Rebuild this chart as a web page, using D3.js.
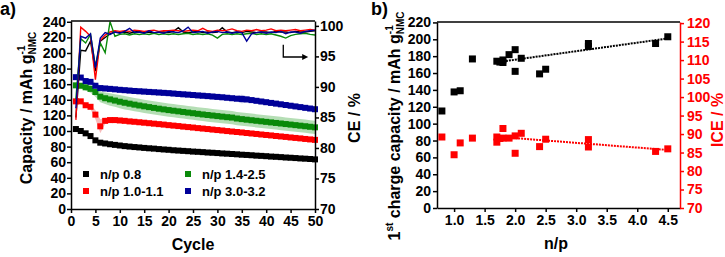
<!DOCTYPE html>
<html>
<head>
<meta charset="utf-8">
<script src="https://cdn.jsdelivr.net/npm/d3@7/dist/d3.min.js"></script>
<style>
body{margin:0;background:#fff}
svg{font-family:"Liberation Sans",Arial,sans-serif;font-weight:bold}
.axis path,.axis line{stroke:#000;stroke-width:1.5}
.axis text{font-size:14px;font-weight:bold;fill:#000;font-family:"Liberation Sans",Arial,sans-serif}
.red path,.red line{stroke:#f00}
.red text{fill:#f00}
</style>
</head>
<body>
<svg id="chart" width="725" height="257"></svg>
<script>
//---- panel a data: capacity (mAh/g) and CE (%) per cycle
var cycles = d3.range(1, 51);
var seriesNames = ["n/p 0.8", "n/p 1.0-1.1", "n/p 1.4-2.5", "n/p 3.0-3.2"];
var seriesColors = ["#000000", "#ff0000", "#0a8a0a", "#000099"];
var bandColors = ["#bbbbbb", "#f5b0b0", "#a8d8a8", "#a8aad8"];

var capBlack = [102.5,100,97,93.5,88,85,84,83,82.2,81.4,80.6,80,79.4,78.9,78.3,77.8,77.4,76.8,76.3,75.9,75.3,74.9,74.5,74.1,73.6,73.3,72.9,72.4,72.1,71.7,71.2,70.9,70.5,70.1,69.6,69.3,68.9,68.4,68.1,67.7,67.2,66.9,66.5,66.0,65.7,65.3,64.8,64.5,64.1,63.6];
var capRed = [138,138,133,131,121,106,113,114,114,113.5,113,112.3,111.8,111.2,110.6,110,109.4,108.8,108.2,107.5,106.9,106.3,105.6,105,104.4,103.7,103.1,102.5,101.8,101.2,100.6,99.9,99.3,98.7,98.1,97.4,96.8,96.2,95.5,94.9,94.3,93.6,93,92.4,91.7,91.1,90.5,89.8,89.2,88.6];
var capGreen = [158.5,158,156,154,150,144,142,140.5,139,137.5,136.2,135,133.8,132.7,131.6,130.6,129.6,128.6,127.7,126.8,126,125.2,124.4,123.6,122.8,122,121.2,120.5,119.8,119.1,118.4,117.7,117.2,116,115.2,114.5,113.8,113.1,112.4,111.7,111,110.3,109.6,108.9,108.2,107.5,106.8,106.1,105.4,104.7];
var capBlue = [169,168.5,164,163,158,155,154.5,154,153.4,152.8,152.3,151.8,151.3,150.9,150.5,150.1,149.7,149.3,148.9,148.5,148,147.5,147,146.6,146.1,145.6,145.2,144.7,144.2,143.7,143.2,142.6,142,141.4,141,140.5,139.6,138.7,137.8,136.9,136,135.1,134.2,133.3,132.4,131.5,130.6,129.7,128.8,127.9];

var errBlack = [0.5,0.5,0.5,0.5,0.5,0.5,0.5,0.5,0.5,0.5,0.5,0.5,0.5,0.5,0.5,0.5,0.5,0.5,0.5,0.5,0.5,0.5,0.5,0.5,0.5,0.5,0.5,0.5,0.5,0.5,0.5,0.5,0.5,0.5,0.5,0.5,0.5,0.5,0.5,0.5,0.5,0.5,0.5,0.5,0.5,0.5,0.5,0.5,0.5,0.5];
var errRed = [3,3,3,3,6,9,4,3,3,3,3,2.5,2.5,2.5,2.5,2.5,2.5,2.5,2.5,2.5,2.5,2.5,2.5,2.5,2.5,2.5,2.5,2.5,2.5,2.5,2.5,2.5,2.5,2.5,2.5,2.5,2.5,2.5,2.5,2.5,2.5,2.5,2.5,2.5,2.5,2.5,2.5,2.5,2.5,2.5];
var errGreen = [3,3,4,5,6,7,7.5,8,8,8.5,8.5,8.5,8.5,8.5,8.5,8.5,8.5,8.5,8.5,8.5,8.5,8.5,8.5,8.5,8.5,8.5,8.5,8.5,8.5,8.5,8.5,8.5,8.5,8.5,8.5,8.5,8.5,8.5,8.5,8.5,8.5,8.5,8.5,8.5,8.5,8.5,8.5,8.5,8.5,8.5];
var errBlue = [3,3,3,3,3.5,3.5,3.5,3.5,3.5,3.5,3.5,3.5,3.5,3.5,3.5,3.5,3.5,3.5,3.5,3.5,3.5,3.5,3.5,3.5,3.5,3.5,3.5,3.5,3.5,3.5,3.5,3.5,3.5,3.5,5.5,4,3.5,3.5,3.5,3.5,3.5,3.5,3.5,3.5,3.5,3.5,3.5,3.5,3.5,3.5];

var ceBlack = [85,96.0,95.9,97.5,92.6,97.5,98.1,98.7,99.0,98.9,99.0,98.8,99.0,99.1,98.9,99.0,98.8,99.0,99.0,98.9,99.1,99.7,99.0,98.9,99.0,99.1,98.9,99.0,98.9,99.0,99.7,99.0,98.9,99.0,98.9,99.1,99.0,98.9,99.0,99.0,98.9,99.1,99.0,99.0,98.9,99.1,99.0,99.0,99.1,99.2];
var ceRed = [84.6,99.8,99.1,98.3,91.2,97.6,98.5,99.0,99.2,99.1,99.2,99.1,99.3,99.2,99.1,99.2,99.3,99.1,99.2,99.2,99.3,99.2,99.1,99.2,99.3,99.2,99.6,99.2,99.1,99.3,99.2,99.3,99.5,99.2,99.1,99.3,99.2,99.4,99.2,99.3,99.5,99.2,99.3,99.2,99.3,99.4,99.2,99.3,99.4,99.3];
var ceGreen = [88,97.9,97.2,98.6,93.4,97.2,95.6,100.7,98.3,98.6,98.7,98.5,98.7,98.6,98.7,98.6,98.8,98.6,98.7,98.6,98.7,98.6,98.7,98.8,98.6,98.7,98.6,98.7,98.5,98.0,98.6,98.7,98.6,98.7,98.6,98.7,98.8,98.6,98.7,98.6,98.7,98.5,98.3,98.0,98.4,98.6,98.7,98.8,98.6,98.5];
var ceBlue = [86.5,98.3,98.0,98.7,93.1,98.0,98.9,98.6,99.0,98.8,99.1,99.6,98.9,99.0,98.8,99.2,98.9,99.0,98.8,99.1,99.0,98.9,99.2,99.8,98.9,99.0,99.1,98.8,99.0,99.1,98.9,99.0,98.8,99.0,98.9,97.5,98.7,98.9,99.0,98.8,99.0,98.9,99.1,98.7,99.0,99.0,98.8,99.1,99.2,99.3];

var capSeries = [capBlack, capRed, capGreen, capBlue];
var errSeries = [errBlack, errRed, errGreen, errBlue];
var ceSeries = [ceBlack, ceRed, ceGreen, ceBlue];

//---- panel b data: first charge capacity and ICE vs n/p
var npCap = [0.8,1.0,1.1,1.3,1.7,1.75,1.8,1.8,1.9,2.0,2.0,2.1,2.4,2.5,3.2,3.2,4.3,4.5];
var firstCap = [115,137.6,139,176.7,174,173,172.5,175.5,181.8,187.7,162,177.5,159,164.5,191.5,195,195,203];
var npIce = [0.8,1.0,1.1,1.3,1.7,1.7,1.75,1.8,1.8,1.9,2.0,2.0,2.1,2.4,2.5,3.2,3.2,4.3,4.5];
var ice = [89.2,84.4,87.6,88.9,89.2,87.8,88.8,91.5,88.9,88.9,89.5,84.8,90.2,86.6,88.6,86.5,88.5,85.3,86];
var capFit = [[1.8,173.8],[4.5,201]];
var iceFit = [[2.0,88.9],[4.5,85.7]];

var xTicksA = [0,5,10,15,20,25,30,35,40,45,50];
var capTicksA = [0,20,40,60,80,100,120,140,160,180,200,220,240];
var ceTicksA = [70,75,80,85,90,95,100];
var xTicksB = [1.0,1.5,2.0,2.5,3.0,3.5,4.0,4.5];
var capTicksB = [0,20,40,60,80,100,120,140,160,180,200,220];
var iceTicksB = [70,75,80,85,90,95,100,105,110,115,120];

var svg = d3.select("#chart");

//scales
var xA = d3.scaleLinear().domain([0, 50]).range([71, 315]);
var yA = d3.scaleLinear().domain([0, 241]).range([209, 21]);
var ceA = d3.scaleLinear().domain([70, 100.8]).range([209, 21]);

var xB = d3.scaleLinear().domain([0.72, 4.70]).range([437, 680]);
var yB = d3.scaleLinear().domain([0, 220.5]).range([208, 22]);
var iceB = d3.scaleLinear().domain([70, 120.3]).range([208, 22]);

function drawAxis(axisGen, minorGen, translate, cls){
	var g = svg.append("g").attr("class", "axis " + (cls || "")).attr("transform", translate);
	g.call(minorGen);
	g.call(axisGen);
	return g;
}

function yLabel(x, y, pre, color){
	var t = svg.append("text")
		.attr("transform", "translate(" + x + "," + y + ") rotate(-90)")
		.attr("text-anchor", "middle")
		.style("font-size", "16px")
		.style("fill", color || "#000");
	pre(t);
	return t;
}

//========== panel a ==========
// std bands
for(var s = 0; s < 4; s++){
	var area = d3.area()
		.x(function(d, i){ return xA(cycles[i]); })
		.y0((function(e){ return function(d, i){ return yA(d - e[i]); }; })(errSeries[s]))
		.y1((function(e){ return function(d, i){ return yA(d + e[i]); }; })(errSeries[s]));
	svg.append("path").datum(capSeries[s])
		.attr("d", area)
		.style("fill", bandColors[s])
		.style("opacity", 0.85);
}
// capacity markers
for(var s = 0; s < 4; s++){
	svg.append("g").selectAll("rect").data(capSeries[s]).enter().append("rect")
		.attr("x", function(d, i){ return xA(cycles[i]) - 3; })
		.attr("y", function(d){ return yA(d) - 3; })
		.attr("width", 6).attr("height", 6)
		.style("fill", seriesColors[s]);
}
// CE lines
svg.append("clipPath").attr("id", "clipA").append("rect")
	.attr("x", 71).attr("y", 17).attr("width", 244).attr("height", 192);
for(var s = 0; s < 4; s++){
	var line = d3.line()
		.x(function(d, i){ return xA(cycles[i]); })
		.y(function(d){ return ceA(d); });
	svg.append("path").datum(ceSeries[s])
		.attr("d", line)
		.attr("clip-path", "url(#clipA)")
		.style("fill", "none")
		.style("stroke", seriesColors[s])
		.style("stroke-width", 1.4);
}

// axes
drawAxis(d3.axisBottom(xA).tickValues(xTicksA).tickSize(4).tickPadding(3).tickSizeOuter(0),
	d3.axisBottom(xA).tickValues(d3.range(0, 50.1, 2.5)).tickSize(2.5).tickFormat("").tickSizeOuter(0),
	"translate(0,209)");
drawAxis(d3.axisLeft(yA).tickValues(capTicksA).tickSize(4).tickPadding(1).tickSizeOuter(0),
	d3.axisLeft(yA).tickValues(d3.range(0, 241, 10)).tickSize(2.5).tickFormat("").tickSizeOuter(0),
	"translate(71,0)");
drawAxis(d3.axisRight(ceA).tickValues(ceTicksA).tickSize(4).tickPadding(1).tickSizeOuter(0),
	d3.axisRight(ceA).tickValues(d3.range(70, 100.5, 1)).tickSize(2.5).tickFormat("").tickSizeOuter(0),
	"translate(315,0)");
svg.append("line").attr("x1", 71).attr("x2", 315).attr("y1", 21).attr("y2", 21)
	.style("stroke", "#000").style("stroke-width", 1.5);

// arrow pointing to right axis
var arrowPts = [[43.5, 96.9], [43.5, 94.9], [47.6, 94.9]];
svg.append("path")
	.attr("d", d3.line().x(function(d){ return xA(d[0]); }).y(function(d){ return ceA(d[1]); })(arrowPts))
	.style("fill", "none").style("stroke", "#000").style("stroke-width", 1.3);
var tipX = xA(48.6), tipY = ceA(94.9);
svg.append("path")
	.attr("d", "M" + tipX + "," + tipY + "l-6,-3l0,6z")
	.style("fill", "#000");

// legend
var legend = svg.append("g").selectAll("g").data(seriesNames).enter().append("g")
	.attr("transform", function(d, i){ return "translate(" + (86 + Math.floor(i / 2) * 102) + "," + (174 + (i % 2) * 17) + ")"; });
legend.append("rect").attr("x", -3).attr("y", -3).attr("width", 6).attr("height", 6)
	.style("fill", function(d, i){ return seriesColors[i]; });
legend.append("text").attr("x", 14).attr("y", 4.5)
	.style("font-size", "13px")
	.text(function(d){ return d; });

// titles
svg.append("text").attr("x", 0).attr("y", 15).style("font-size", "18px").text("a)");
svg.append("text").attr("x", 193).attr("y", 250).attr("text-anchor", "middle")
	.style("font-size", "16px").text("Cycle");
yLabel(32, 108, function(t){
	t.append("tspan").text("Capacity / mAh g");
	t.append("tspan").attr("dy", -7).style("font-size", "10px").text("-1");
	t.append("tspan").attr("dx", -9).attr("dy", 11).style("font-size", "10px").text("NMC");
});
yLabel(360, 118, function(t){ t.text("CE / %"); });

//========== panel b ==========
drawAxis(d3.axisBottom(xB).tickValues(xTicksB).tickFormat(d3.format(".1f")).tickSize(4).tickPadding(3).tickSizeOuter(0),
	d3.axisBottom(xB).tickValues(d3.range(0.75, 4.7, 0.25)).tickSize(2.5).tickFormat("").tickSizeOuter(0),
	"translate(0,208)");
drawAxis(d3.axisLeft(yB).tickValues(capTicksB).tickSize(4).tickPadding(2).tickSizeOuter(0),
	d3.axisLeft(yB).tickValues(d3.range(0, 221, 10)).tickSize(2.5).tickFormat("").tickSizeOuter(0),
	"translate(437,0)");
drawAxis(d3.axisRight(iceB).tickValues(iceTicksB).tickSize(4).tickPadding(3).tickSizeOuter(0),
	d3.axisRight(iceB).tickValues(d3.range(70, 120.1, 2.5)).tickSize(2.5).tickFormat("").tickSizeOuter(0),
	"translate(680,0)", "red");
svg.append("line").attr("x1", 437).attr("x2", 680).attr("y1", 22).attr("y2", 22)
	.style("stroke", "#000").style("stroke-width", 1.5);

svg.append("g").selectAll("rect").data(firstCap).enter().append("rect")
	.attr("x", function(d, i){ return xB(npCap[i]) - 3.5; })
	.attr("y", function(d){ return yB(d) - 3.5; })
	.attr("width", 7).attr("height", 7)
	.style("fill", "#000");
svg.append("g").selectAll("rect").data(ice).enter().append("rect")
	.attr("x", function(d, i){ return xB(npIce[i]) - 3.5; })
	.attr("y", function(d){ return iceB(d) - 3.5; })
	.attr("width", 7).attr("height", 7)
	.style("fill", "#f00");

svg.append("path")
	.attr("d", d3.line().x(function(d){ return xB(d[0]); }).y(function(d){ return yB(d[1]); })(capFit))
	.style("stroke", "#000").style("stroke-width", 2).style("stroke-dasharray", "2,1");
svg.append("path")
	.attr("d", d3.line().x(function(d){ return xB(d[0]); }).y(function(d){ return iceB(d[1]); })(iceFit))
	.style("stroke", "#f00").style("stroke-width", 2).style("stroke-dasharray", "2,1");

svg.append("text").attr("x", 371).attr("y", 15).style("font-size", "18px").text("b)");
svg.append("text").attr("x", 556).attr("y", 249).attr("text-anchor", "middle")
	.style("font-size", "16px").text("n/p");
yLabel(400, 126, function(t){
	t.append("tspan").text("1");
	t.append("tspan").attr("dy", -7).style("font-size", "10px").text("st");
	t.append("tspan").attr("dy", 7).text(" charge capacity / mAh g");
	t.append("tspan").attr("dy", -7).style("font-size", "10px").text("-1");
	t.append("tspan").attr("dx", -9).attr("dy", 11).style("font-size", "10px").text("NMC");
});
yLabel(723, 120, function(t){ t.text("ICE / %"); }, "#f00");
</script>
</body>
</html>
